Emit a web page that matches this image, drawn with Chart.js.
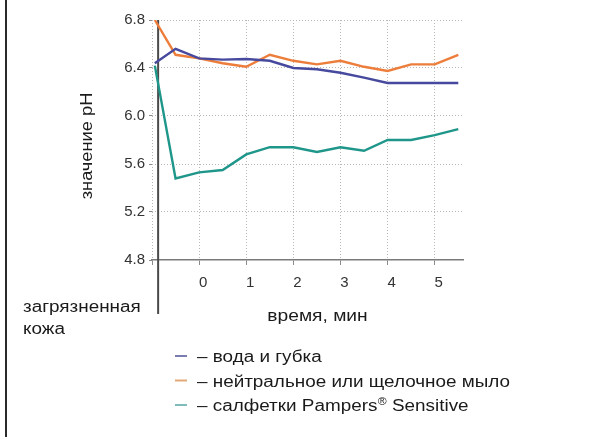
<!DOCTYPE html>
<html>
<head>
<meta charset="utf-8">
<script src="https://cdn.jsdelivr.net/npm/chart.js@4"></script>
<style>
  html, body { margin: 0; padding: 0; background: #fff; }
</style>
</head>
<body>
<canvas id="ph" width="593" height="437"></canvas>
<script>
// time points, minutes (first point = dirty skin)
const minutes = [-0.94, -0.5, 0, 0.5, 1, 1.5, 2, 2.5, 3, 3.5, 4, 4.5, 5, 5.5];
// pH values
const waterSponge = [6.44, 6.56, 6.48, 6.47, 6.475, 6.46, 6.40, 6.39, 6.36, 6.32, 6.275, 6.275, 6.275, 6.275];
const soap = [6.80, 6.51, 6.48, 6.44, 6.41, 6.51, 6.46, 6.43, 6.46, 6.41, 6.375, 6.43, 6.43, 6.51];
const wipes = [6.42, 5.48, 5.53, 5.55, 5.68, 5.74, 5.74, 5.70, 5.74, 5.71, 5.80, 5.80, 5.84, 5.89];
const seriesLabels = ['– вода и губка', '– нейтральное или щелочное мыло', '– салфетки Pampers® Sensitive'];
const xTicks = [-1, 0, 1, 2, 3, 4, 5];
const yTicks = [4.8, 5.2, 5.6, 6.0, 6.4, 6.8];
const skinX = -0.87;
const yTitle = 'значение pH';
const xTitle = 'время, мин';
const skinLabel = ['загрязненная', 'кожа'];

const lineColors = ['#46499d', '#ec7d3b', '#1f968a'];
const swatchColors = ['#7b7db0', '#e2a878', '#7dbcb8'];
const FONT = '"Liberation Sans", Arial, sans-serif';

function pts(vals) {
  return vals.map((v, i) => ({ x: minutes[i], y: v }));
}

function wideText(ctx, str, x, y, size, sx) {
  ctx.save();
  ctx.translate(x, y);
  ctx.scale(sx, 1);
  ctx.font = size + 'px ' + FONT;
  ctx.fillText(str, 0, 0);
  ctx.restore();
  ctx.font = size + 'px ' + FONT;
  return ctx.measureText(str).width * sx;
}

const extras = {
  id: 'extras',
  beforeDatasetsDraw(chart) {
    const { ctx, chartArea, scales } = chart;
    const sx = scales.x.getPixelForValue(skinX);
    ctx.save();
    ctx.strokeStyle = '#4a4a4a';
    ctx.lineWidth = 2;
    ctx.beginPath();
    ctx.moveTo(sx, chartArea.top);
    ctx.lineTo(sx, chartArea.bottom + 54);
    ctx.stroke();
    ctx.restore();
  },
  afterDraw(chart) {
    const { ctx, chartArea } = chart;
    ctx.save();
    // page frame on the left
    ctx.fillStyle = '#2a2a2a';
    ctx.fillRect(5, 0, 2, chart.height);

    ctx.fillStyle = '#1a1a1a';
    ctx.textBaseline = 'alphabetic';
    ctx.textAlign = 'left';

    // x title
    ctx.font = '16px ' + FONT;
    const tw = ctx.measureText(xTitle).width * 1.2;
    const cx = (chartArea.left + chartArea.right) / 2 + 10;
    wideText(ctx, xTitle, cx - tw / 2, 321, 16, 1.2);

    // dirty skin label
    wideText(ctx, skinLabel[0], 23, 312, 16, 1.18);
    wideText(ctx, skinLabel[1], 23, 334, 16, 1.18);

    // y title
    ctx.save();
    ctx.translate(88, 146);
    ctx.rotate(-Math.PI / 2);
    ctx.scale(1.14, 1);
    ctx.font = '16px ' + FONT;
    ctx.textAlign = 'center';
    ctx.textBaseline = 'middle';
    ctx.fillText(yTitle, 0, 0);
    ctx.restore();

    // legend
    chart.data.datasets.forEach((ds, i) => {
      const ly = 356 + i * 24.5;
      ctx.strokeStyle = swatchColors[i];
      ctx.lineWidth = 2;
      ctx.beginPath();
      ctx.moveTo(175, ly);
      ctx.lineTo(187, ly);
      ctx.stroke();
      const parts = ds.label.split('®');
      let x = 197;
      const by = ly + 6;
      x += wideText(ctx, parts[0], x, by, 16, 1.18);
      if (parts.length > 1) {
        x += wideText(ctx, '®', x + 0.5, by - 6, 11, 1.1) + 0.5;
        wideText(ctx, parts[1], x, by, 16, 1.18);
      }
    });
    ctx.restore();
  }
};

new Chart(document.getElementById('ph'), {
  type: 'line',
  data: {
    datasets: [
      { label: seriesLabels[0], data: pts(waterSponge), borderColor: lineColors[0] },
      { label: seriesLabels[1], data: pts(soap), borderColor: lineColors[1] },
      { label: seriesLabels[2], data: pts(wipes), borderColor: lineColors[2] }
    ]
  },
  options: {
    responsive: false,
    animation: false,
    devicePixelRatio: 1,
    layout: { padding: { top: 20, right: 130, left: 0, bottom: 0 } },
    elements: {
      line: { borderWidth: 2.4, tension: 0, fill: false },
      point: { radius: 0 }
    },
    plugins: { legend: { display: false }, tooltip: { enabled: false } },
    scales: {
      x: {
        type: 'linear',
        min: -1,
        max: 5.6,
        afterBuildTicks: s => { s.ticks = xTicks.map(v => ({ value: v })); },
        afterFit: s => { s.height = 177; },
        ticks: {
          padding: 9,
          labelOffset: 4,
          color: '#333',
          font: { family: FONT, size: 15 },
          callback: v => (v < 0 ? '' : String(v))
        },
        grid: { color: '#b8b8b8', tickColor: '#8a8a8a', tickLength: 5, lineWidth: 1 },
        border: { display: true, color: '#7a7a7a', width: 1.5, dash: [1, 2] }
      },
      y: {
        min: 4.8,
        max: 6.8,
        afterBuildTicks: s => { s.ticks = yTicks.map(v => ({ value: v })); },
        afterFit: s => { s.width = 152; },
        ticks: {
          padding: 4,
          color: '#333',
          font: { family: FONT, size: 15 },
          callback: v => v.toFixed(1)
        },
        grid: {
          color: c => (c.tick && c.tick.value === 4.8 ? 'rgba(0,0,0,0)' : '#b8b8b8'),
          tickColor: '#8a8a8a',
          tickLength: 3
        },
        border: { display: false, dash: [1, 2] }
      }
    }
  },
  plugins: [extras]
});
</script>
</body>
</html>
